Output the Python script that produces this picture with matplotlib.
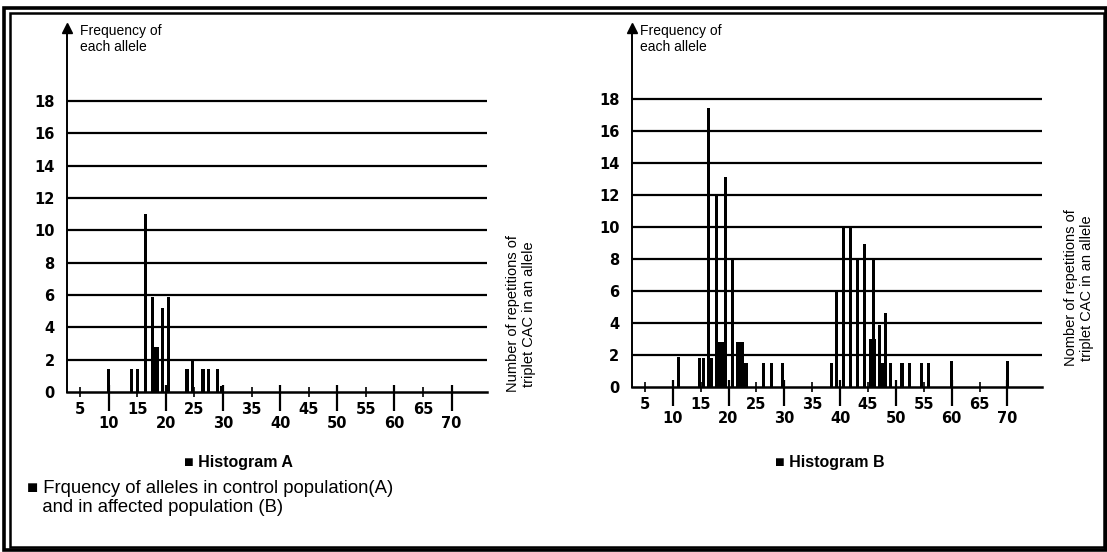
import matplotlib
matplotlib.use("Agg")
import matplotlib.pyplot as plt
from matplotlib.patches import Rectangle

# ---------------- data ----------------
yticks = [0, 2, 4, 6, 8, 10, 12, 14, 16, 18]
major_x = [10, 20, 30, 40, 50, 60, 70]
minor_x = [5, 15, 25, 35, 45, 55, 65]

# Histogram A (control population): repeat count -> frequency
a_repeats = [10, 14, 15, 16.5, 17.6, 17.9, 18.2, 18.5, 19.4, 20.5,
             23.7, 24.6, 26.5, 27.5, 29.1, 29.8]
a_freq = [1.4, 1.4, 1.4, 11.0, 5.9, 2.8, 2.8, 2.8, 5.2, 5.9,
          1.4, 1.9, 1.4, 1.4, 1.4, 0.4]

# Histogram B (affected population)
b_repeats = [11.1, 14.8, 15.6, 16.4, 16.9, 17.8, 18.3, 18.6, 18.9, 19.4,
             20.7, 21.6, 21.9, 22.2, 22.5, 23.0, 23.3, 26.2, 27.7, 29.7,
             38.4, 39.4, 40.6, 41.8, 43.2, 44.4, 45.5, 45.8, 46.0, 46.2,
             47.1, 47.6, 48.1, 49.0, 51.1, 52.4, 54.6, 55.9, 60.0, 70.0]
b_freq = [1.9, 1.8, 1.8, 17.4, 1.8, 11.9, 2.8, 2.8, 2.8, 13.1,
          7.9, 2.8, 2.8, 2.8, 2.8, 1.5, 1.5, 1.5, 1.5, 1.5,
          1.5, 5.9, 9.9, 9.9, 7.9, 8.9, 3.0, 3.0, 7.9, 3.0,
          3.9, 1.5, 4.6, 1.5, 1.5, 1.5, 1.5, 1.5, 1.6, 1.6]

y_title = "Frequency of\neach allele"
x_title_a = "Number of repetitions of\ntriplet CAC in an allele"
x_title_b = "Nomber of repetitions of\ntriplet CAC in an allele"
label_a = "\u25a0 Histogram A"
label_b = "\u25a0 Histogram B"
caption = "\u25a0 Frquency of alleles in control population(A)\n   and in affected population (B)"

# ---------------- figure ----------------
W, H = 1107, 552
fig = plt.figure(figsize=(W / 100, H / 100), dpi=100)
fig.patch.set_facecolor("white")

SANS = ["Liberation Sans", "DejaVu Sans"]
NARROW = ["Liberation Sans Narrow", "Liberation Sans", "DejaVu Sans"]


def px_axes(left, right, top, bottom):
    return fig.add_axes([left / W, 1 - bottom / H, (right - left) / W, (bottom - top) / H])


def setup(ax, xs, ys, ytop):
    ax.set_xlim(2.7, 76.2)
    ax.set_ylim(0, ytop)
    for y in yticks[1:]:
        ax.axhline(y, color="black", lw=1.6, zorder=1)
    ax.bar(xs, ys, width=0.55, color="black", align="center", zorder=3)
    for s in ["top", "right"]:
        ax.spines[s].set_visible(False)
    ax.spines["left"].set_linewidth(1.4)
    ax.spines["bottom"].set_linewidth(1.8)
    ax.plot([0], [1], marker="^", color="black", ms=7, transform=ax.transAxes,
            clip_on=False, zorder=5)
    ax.set_yticks(yticks)
    ax.set_yticklabels([str(v) for v in yticks], fontfamily="DejaVu Sans",
                       fontweight="bold", fontsize=10.5)
    ax.tick_params(axis="y", length=0, pad=9)
    ax.set_xticks(major_x)
    ax.set_xticklabels([str(v) for v in major_x], fontfamily="DejaVu Sans",
                       fontweight="bold", fontsize=10.5)
    ax.set_xticks(minor_x, minor=True)
    ax.set_xticklabels([str(v) for v in minor_x], minor=True, fontfamily="DejaVu Sans",
                       fontweight="bold", fontsize=10.5)
    ax.tick_params(axis="x", which="major", direction="out", length=14, width=1.6, pad=3.5)
    ax.tick_params(axis="x", which="minor", direction="inout", length=7, width=1.2, pad=4)
    ax.vlines(major_x, 0, 0.45, color="black", lw=1.6, zorder=4)


axA = px_axes(67, 487, 28, 392)
setup(axA, a_repeats, a_freq, (392 - 28) / 16.17)
axB = px_axes(632, 1042, 28, 387)
setup(axB, b_repeats, b_freq, (387 - 28) / 16.02)

# Titles
fig.text(80 / W, 1 - 24 / H, y_title, family=NARROW, fontsize=10, va="top", ha="left",
         linespacing=1.15)
fig.text(640 / W, 1 - 24 / H, y_title, family=NARROW, fontsize=10, va="top", ha="left",
         linespacing=1.15)

fig.text(521 / W, 1 - 314 / H, x_title_a, family=NARROW, fontsize=10.5, rotation=90,
         ha="center", va="center", linespacing=1.15)
fig.text(1079 / W, 1 - 288 / H, x_title_b, family=NARROW, fontsize=10.5, rotation=90,
         ha="center", va="center", linespacing=1.15)

fig.text(238 / W, 1 - 463 / H, label_a, family=SANS, fontweight="bold", fontsize=11.5,
         ha="center", va="center")
fig.text(830 / W, 1 - 463 / H, label_b, family=SANS, fontweight="bold", fontsize=11.5,
         ha="center", va="center")

fig.text(27 / W, 1 - 498 / H, caption, family=SANS, fontsize=13.3, ha="left", va="center",
         linespacing=1.2)

# Double frame
def frame(l, t, r, b, lw):
    fig.patches.append(Rectangle((l / W, 1 - b / H), (r - l) / W, (b - t) / H,
                                 transform=fig.transFigure, fill=False,
                                 edgecolor="black", lw=lw))

frame(4, 8, 1106, 550, 2.6)
frame(10, 13, 1104, 547, 1.8)

fig.savefig("out.png", dpi=100, facecolor="white")
